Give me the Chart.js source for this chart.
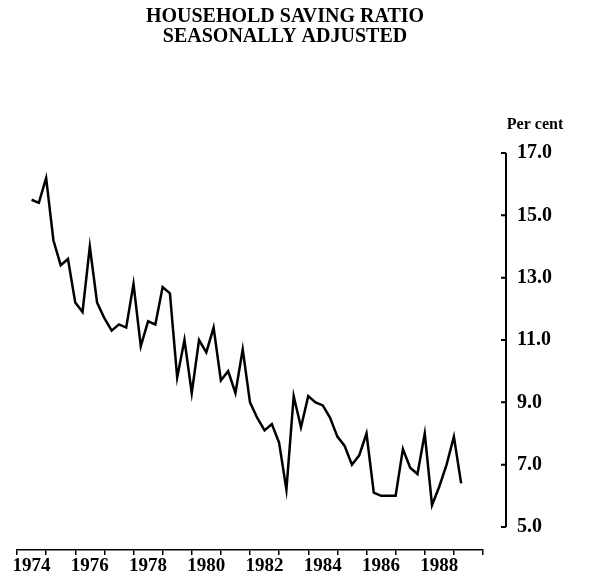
<!DOCTYPE html>
<html>
<head>
<meta charset="utf-8">
<title>Household saving ratio</title>
<script src="https://cdn.jsdelivr.net/npm/chart.js@4.4.1/dist/chart.umd.min.js"></script>
<style>
	body { margin: 0; background: #fff; }
	#grafico { display: block; }
</style>
</head>
<body>
<canvas id="grafico" width="589" height="577"></canvas>
<script>
// quarters, plotted at the end of each quarter
var periods = [
	'1974 Q2', '1974 Q3', '1974 Q4',
	'1975 Q1', '1975 Q2', '1975 Q3', '1975 Q4',
	'1976 Q1', '1976 Q2', '1976 Q3', '1976 Q4',
	'1977 Q1', '1977 Q2', '1977 Q3', '1977 Q4',
	'1978 Q1', '1978 Q2', '1978 Q3', '1978 Q4',
	'1979 Q1', '1979 Q2', '1979 Q3', '1979 Q4',
	'1980 Q1', '1980 Q2', '1980 Q3', '1980 Q4',
	'1981 Q1', '1981 Q2', '1981 Q3', '1981 Q4',
	'1982 Q1', '1982 Q2', '1982 Q3', '1982 Q4',
	'1983 Q1', '1983 Q2', '1983 Q3', '1983 Q4',
	'1984 Q1', '1984 Q2', '1984 Q3', '1984 Q4',
	'1985 Q1', '1985 Q2', '1985 Q3', '1985 Q4',
	'1986 Q1', '1986 Q2', '1986 Q3', '1986 Q4',
	'1987 Q1', '1987 Q2', '1987 Q3', '1987 Q4',
	'1988 Q1', '1988 Q2', '1988 Q3', '1988 Q4',
	'1989 Q1'
];

// household saving ratio, per cent
var saving = [
	15.5, 15.4, 16.2,
	14.2, 13.4, 13.6, 12.2,
	11.9, 14.0, 12.2, 11.7,
	11.3, 11.5, 11.4, 12.8,
	10.8, 11.6, 11.5, 12.7,
	12.5, 9.8, 11.0, 9.3,
	11.0, 10.6, 11.4, 9.7,
	10.0, 9.3, 10.7, 9.0,
	8.5, 8.1, 8.3, 7.7,
	6.2, 9.2, 8.2, 9.2,
	9.0, 8.9, 8.5, 7.9,
	7.6, 7.0, 7.3, 8.0,
	6.1, 6.0, 6.0, 6.0,
	7.5, 6.9, 6.7, 8.0,
	5.7, 6.3, 7.0, 7.9,
	6.4
];

var yearTicks = [1974, 1975, 1976, 1977, 1978, 1979, 1980, 1981, 1982, 1983, 1984, 1985, 1986, 1987, 1988, 1989, 1990];
var yearLabels = [1974, 1976, 1978, 1980, 1982, 1984, 1986, 1988];
var percentTicks = [5, 7, 9, 11, 13, 15, 17];

var serif = "'Liberation Serif', 'Times New Roman', serif";

function periodToYear(p) {
	var partes = p.split(' Q');
	return Number(partes[0]) + Number(partes[1]) / 4;
}

var puntos = periods.map(function (p, i) {
	return { x: periodToYear(p), y: saving[i] };
});

// right hand axis drawn apart from the plot, with ticks pointing inwards
var ejeDerecho = {
	id: 'ejeDerecho',
	afterDraw: function (chart) {
		var ctx = chart.ctx;
		var escala = chart.scales.y;
		var ax = chart.chartArea.right + 23;
		var arriba = escala.getPixelForValue(percentTicks[percentTicks.length - 1]);
		var abajo = escala.getPixelForValue(percentTicks[0]);
		ctx.save();
		ctx.strokeStyle = '#000';
		ctx.lineWidth = 2;
		ctx.beginPath();
		ctx.moveTo(ax, arriba);
		ctx.lineTo(ax, abajo);
		percentTicks.forEach(function (v) {
			var py = escala.getPixelForValue(v);
			ctx.moveTo(ax - 5, py);
			ctx.lineTo(ax, py);
		});
		ctx.stroke();
		ctx.fillStyle = '#000';
		ctx.font = 'bold 16px ' + serif;
		ctx.textAlign = 'center';
		ctx.textBaseline = 'middle';
		ctx.fillText('Per cent', ax + 29, arriba - 28);
		ctx.restore();
	}
};

var contexto = document.getElementById('grafico').getContext('2d');

var grafico = new Chart(contexto, {
	type: 'line',
	data: {
		datasets: [{
			label: 'Household saving ratio',
			data: puntos,
			borderColor: '#000',
			borderWidth: 2.5,
			pointRadius: 0,
			tension: 0,
			fill: false
		}]
	},
	options: {
		responsive: false,
		animation: false,
		layout: { padding: { left: 17, right: 36, top: 0, bottom: 0 } },
		plugins: {
			legend: { display: false },
			tooltip: { enabled: false },
			title: {
				display: true,
				text: ['HOUSEHOLD SAVING RATIO', 'SEASONALLY ADJUSTED'],
				color: '#000',
				font: { family: serif, size: 20, weight: 'bold', lineHeight: '19.5px' },
				padding: { top: 7.5, bottom: 106.5 }
			}
		},
		scales: {
			x: {
				type: 'linear',
				min: 1974,
				max: 1990,
				afterBuildTicks: function (scale) {
					scale.ticks = yearTicks.map(function (v) { return { value: v }; });
				},
				afterFit: function (scale) {
					scale.height = 27;
					scale.paddingLeft = 0;
					scale.paddingRight = 0;
				},
				grid: {
					display: true,
					drawOnChartArea: false,
					drawTicks: true,
					tickLength: 5,
					color: '#000',
					lineWidth: 1.5
				},
				border: { display: true, color: '#000', width: 1.5 },
				ticks: {
					autoSkip: false,
					maxRotation: 0,
					padding: 0,
					labelOffset: 14.5,
					color: '#000',
					font: { family: serif, size: 19, weight: 'bold' },
					callback: function (v) {
						return yearLabels.indexOf(v) >= 0 ? String(v) : '';
					}
				}
			},
			y: {
				position: 'right',
				min: 4.262,
				max: 17,
				afterBuildTicks: function (scale) {
					scale.ticks = percentTicks.map(function (v) { return { value: v }; });
				},
				afterFit: function (scale) {
					scale.width = 70;
					scale.paddingTop = 0;
					scale.paddingBottom = 0;
				},
				grid: { display: false, drawTicks: false },
				border: { display: false },
				ticks: {
					padding: 34,
					color: '#000',
					font: { family: serif, size: 20, weight: 'bold' },
					callback: function (v) { return v.toFixed(1); }
				}
			}
		}
	},
	plugins: [ejeDerecho]
});
</script>
</body>
</html>
